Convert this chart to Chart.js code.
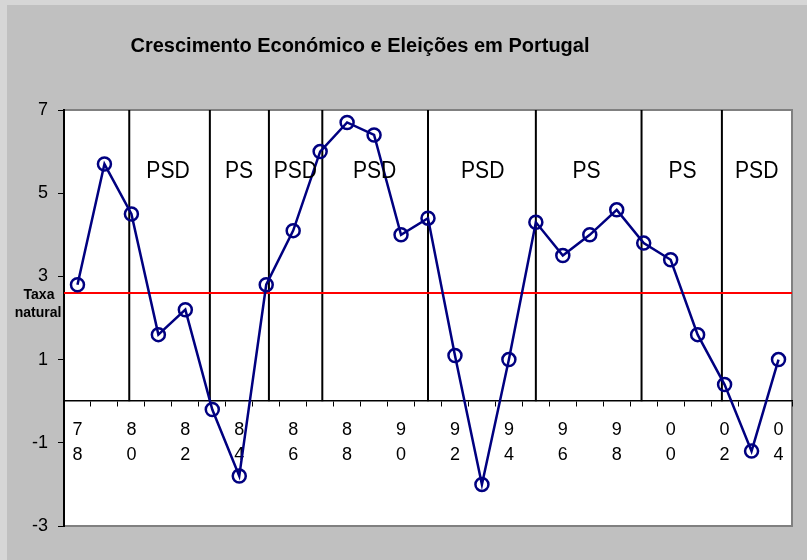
<!DOCTYPE html>
<html>
<head>
<meta charset="utf-8">
<script src="https://cdn.jsdelivr.net/npm/chart.js@4"></script>
<style>
  html, body { margin: 0; padding: 0; background: #d6d6d6; }
  canvas { display: block; }
</style>
</head>
<body>
<canvas id="c" width="807" height="560"></canvas>
<script>
// ---- Data ----
const chartTitle = 'Crescimento Económico e Eleições em Portugal';
const years = ['1978','1979','1980','1981','1982','1983','1984','1985','1986','1987','1988','1989','1990','1991','1992','1993','1994','1995','1996','1997','1998','1999','2000','2001','2002','2003','2004'];
const growth = [2.8, 5.7, 4.5, 1.6, 2.2, -0.2, -1.8, 2.8, 4.1, 6.0, 6.7, 6.4, 4.0, 4.4, 1.1, -2.0, 1.0, 4.3, 3.5, 4.0, 4.6, 3.8, 3.4, 1.6, 0.4, -1.2, 1.0];
const naturalRate = 2.6;
const naturalRateLabel = ['Taxa', 'natural'];
const electionBreaks = [1979.92, 1982.91, 1985.1, 1987.08, 1991.0, 1995.0, 1998.92, 2001.9];
const governingParty = ['PSD', 'PS', 'PSD', 'PSD', 'PSD', 'PS', 'PS', 'PSD'];
const partyLabelYear = [1981.36, 1983.99, 1986.08, 1989.02, 1993.03, 1996.88, 2000.44, 2003.19];
const partyLabelValue = 5.55;
const yTicks = { min: -3, max: 7, step: 2 };

const FONT = 'Arial, "Liberation Sans", Helvetica, sans-serif';
const firstYear = Number(years[0]);
const lastYear = Number(years[years.length - 1]);

// overlay datasets built from the data arrays
const breakSets = electionBreaks.map(b => ({
  type: 'line',
  xAxisID: 'xl',
  data: [{x: b, y: 0}, {x: b, y: yTicks.max}],
  borderColor: '#000000',
  borderWidth: 2,
  pointRadius: 0,
  order: 3
}));

const naturalSet = {
  type: 'line',
  xAxisID: 'xl',
  data: [{x: firstYear - 0.5, y: naturalRate}, {x: lastYear + 0.5, y: naturalRate}],
  borderColor: '#ff0000',
  borderWidth: 2,
  pointRadius: 0,
  order: 2
};

const bgPlugin = {
  id: 'bg',
  beforeDraw(chart) {
    const ctx = chart.ctx, a = chart.chartArea;
    ctx.save();
    ctx.fillStyle = '#d6d6d6';
    ctx.fillRect(0, 0, chart.width, chart.height);
    ctx.fillStyle = '#c0c0c0';
    ctx.fillRect(7, 5, chart.width - 7, chart.height - 5);
    ctx.fillStyle = '#ffffff';
    ctx.fillRect(a.left, a.top, a.right - a.left, a.bottom - a.top);
    ctx.strokeStyle = '#808080';
    ctx.lineWidth = 2;
    ctx.strokeRect(a.left, a.top, a.right - a.left, a.bottom - a.top);
    // title
    ctx.fillStyle = '#000';
    ctx.font = 'bold 20px ' + FONT;
    ctx.textAlign = 'center';
    ctx.textBaseline = 'middle';
    ctx.fillText(chartTitle, 360, 46);
    ctx.restore();
  },
  afterDatasetsDraw(chart) {
    const ctx = chart.ctx, a = chart.chartArea;
    const xs = chart.scales.xl, ys = chart.scales.y;
    ctx.save();
    ctx.fillStyle = '#000';
    ctx.textAlign = 'center';
    ctx.textBaseline = 'middle';
    ctx.font = '24px ' + FONT;
    const py = ys.getPixelForValue(partyLabelValue);
    governingParty.forEach((p, i) => {
      const px = xs.getPixelForValue(partyLabelYear[i]);
      ctx.save();
      ctx.translate(px, py + 1);
      ctx.scale(0.88, 1);
      ctx.fillText(p, 0, 0);
      ctx.restore();
    });
    ctx.font = 'bold 14px ' + FONT;
    const ny = ys.getPixelForValue(naturalRate);
    ctx.fillText(naturalRateLabel[0], a.left - 25, ny + 2);
    ctx.fillText(naturalRateLabel[1], a.left - 26, ny + 20);
    ctx.restore();
  }
};

new Chart(document.getElementById('c'), {
  type: 'line',
  data: {
    labels: years,
    datasets: [
      {
        label: 'Crescimento',
        data: growth,
        borderColor: '#000080',
        borderWidth: 2.5,
        pointStyle: 'circle',
        pointRadius: 6.5,
        pointBorderWidth: 2.5,
        pointBorderColor: '#000080',
        pointBackgroundColor: 'rgba(0,0,0,0)',
        tension: 0,
        order: 0
      },
      naturalSet,
      ...breakSets
    ]
  },
  options: {
    responsive: false,
    devicePixelRatio: 1,
    animation: false,
    layout: { padding: { left: 0, right: 15, top: 110, bottom: 34 } },
    plugins: { legend: { display: false }, tooltip: { enabled: false }, title: { display: false } },
    scales: {
      x: {
        type: 'category',
        position: { y: 0 },
        offset: true,
        grid: { drawOnChartArea: false, drawTicks: true, tickLength: 5, color: '#000', offset: true, lineWidth: 1 },
        border: { display: true, color: '#000', width: 1.5 },
        ticks: {
          autoSkip: false,
          maxRotation: 0,
          color: '#000',
          padding: 12,
          font: { family: FONT, size: 18, lineHeight: 1.36 },
          callback: function (v, i) {
            const s = years[i];
            return i % 2 === 0 ? [s[2], s[3]] : '';
          }
        }
      },
      xl: {
        type: 'linear',
        display: false,
        min: firstYear - 0.5,
        max: lastYear + 0.5
      },
      y: {
        min: yTicks.min,
        max: yTicks.max,
        afterFit(scale) { scale.width = 64; },
        grid: { drawOnChartArea: false, drawTicks: true, tickLength: 6, color: '#000' },
        border: { display: true, color: '#000', width: 2 },
        ticks: {
          stepSize: yTicks.step,
          color: '#000',
          padding: 10,
          font: { family: FONT, size: 18 }
        }
      }
    }
  },
  plugins: [bgPlugin]
});
</script>
</body>
</html>
